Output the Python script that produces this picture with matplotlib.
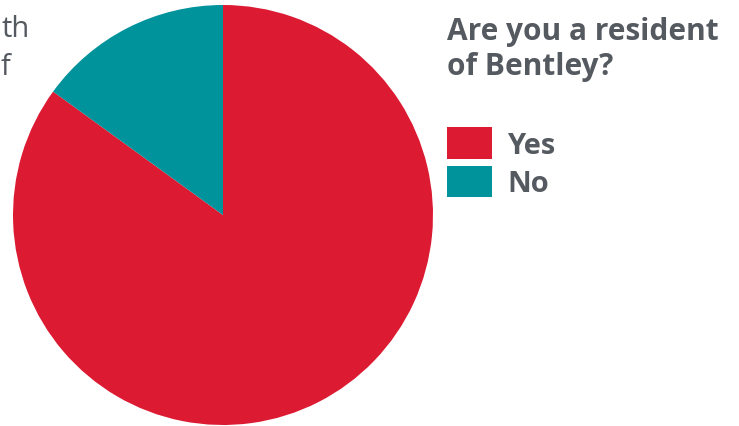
import matplotlib
matplotlib.use("Agg")
import matplotlib.pyplot as plt

# ── Data ───────────────────────────────────────────────────────────────────────
labels = ["Yes", "No"]
values = [85, 15]
colors = ["#DC1A32", "#00939B"]

TITLE = "Are you a resident\nof Bentley?"
SIDE_TEXT = ["th", "f"]          # tail of a wrapped caption at the left edge
TEXT_GRAY = "#555a60"
FONT = "Open Sans"

fig = plt.figure(figsize=(7.39, 4.27), dpi=100, facecolor="white")

# caption fragment on the far left
for i, s in enumerate(SIDE_TEXT):
    fig.text(1 / 739, 1 - (37 + 38 * i) / 427, s, ha="left", va="baseline",
             fontsize=21, color=TEXT_GRAY, family=FONT)

ax = fig.add_axes([13 / 739, 1 / 427, 420 / 739, 420 / 427])
wedges, _ = ax.pie(values, colors=colors, startangle=90, counterclock=False,
                   radius=1.0, wedgeprops=dict(linewidth=0))
ax.set_xlim(-1, 1)
ax.set_ylim(-1, 1)
ax.set_aspect("equal")
ax.axis("off")

fig.text(447 / 739, 1 - 17 / 427, TITLE, ha="left", va="top",
         fontsize=21.5, fontweight="bold", color=TEXT_GRAY, family=FONT,
         linespacing=1.2)

leg = fig.legend(wedges, labels, loc="upper left",
                 bbox_to_anchor=(447 / 739, 1 - 128 / 427),
                 frameon=False, fontsize=21, handlelength=1.55,
                 handleheight=1.3, labelspacing=0.2, handletextpad=0.52,
                 borderpad=0, borderaxespad=0)
for t in leg.get_texts():
    t.set_color(TEXT_GRAY)
    t.set_fontweight("bold")
    t.set_family(FONT)

fig.savefig("out.png", dpi=100, facecolor="white")
